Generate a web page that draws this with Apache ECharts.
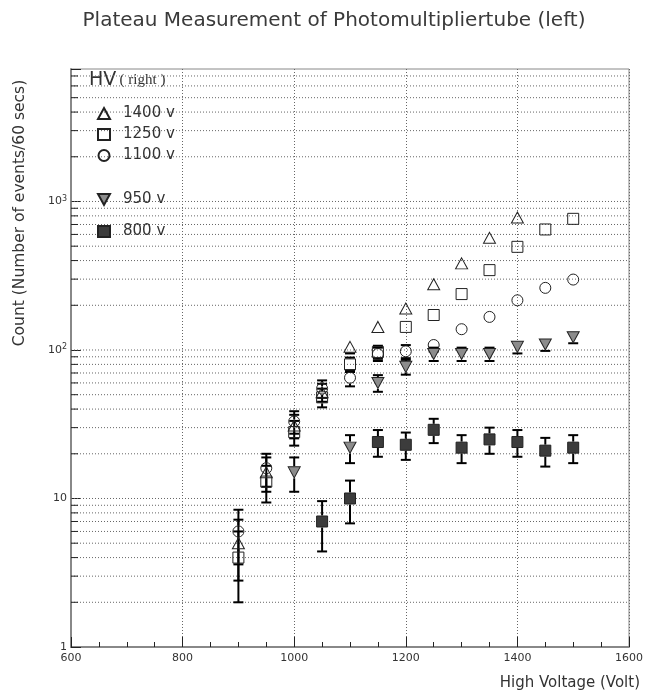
<!DOCTYPE html>
<html>
<head>
<meta charset="utf-8">
<script src="https://cdn.jsdelivr.net/npm/echarts@6/dist/echarts.min.js"></script>
<style>
  html, body { margin: 0; padding: 0; background: #fff; }
  #chart { width: 646px; height: 697px; }
</style>
</head>
<body>
<div id="chart"></div>
<script>
// high voltage settings (x) and counts per 60 s for each HV of the right tube
const hv = [900, 950, 1000, 1050, 1100, 1150, 1200, 1250, 1300, 1350, 1400, 1450, 1500];
const v1400 = [5, 15, 31, 52, 105, 143, 190, 277, 383, 569, 780, null, null];
const e1400 = [2.2, 3.9, 5.6, 7.2, 10.2, 12, 13.8, 16.6, 19.6, 23.9, 27.9, null, null];
const v1250 = [4, 13, 28, 48, 80, 97, 143, 172, 238, 345, 495, 648, 764];
const e1250 = [2, 3.6, 5.3, 6.9, 8.9, 9.8, 12, 13.1, 15.4, 18.6, 22.2, 25.5, 27.6];
const v1100 = [6, 16, 33, 55, 65, 94, 98, 108, 138, 167, 216, 262, 298];
const e1100 = [2.4, 4, 5.7, 7.4, 8.1, 9.7, 9.9, 10.4, 11.7, 12.9, 14.7, 16.2, 17.3];
const v950 = [null, null, 15, null, 22, 60, 77, 94, 94, 94, 105, 109, 122];
const e950 = [null, null, 3.9, null, 4.7, 7.7, 8.8, 9.7, 9.7, 9.7, 10.2, 10.4, 11];
const v800 = [null, null, null, 7, 10, 24, 23, 29, 22, 25, 24, 21, 22];
const e800 = [null, null, null, 2.6, 3.2, 4.9, 4.8, 5.4, 4.7, 5, 4.9, 4.6, 4.7];

// log axis grid values
const yMajor = [10, 100, 1000];
const yMinor = [2, 3, 4, 5, 6, 7, 8, 9, 20, 30, 40, 50, 60, 70, 80, 90,
  200, 300, 400, 500, 600, 700, 800, 900, 2000, 3000, 4000, 5000, 6000, 7000];

const FONT = 'DejaVu Sans';
const INK = '#333';

function pts(vals, errs) {
  const out = [];
  hv.forEach((x, i) => { if (vals[i] != null) out.push([x, vals[i], errs[i]]); });
  return out;
}

function errorBars(params, api) {
  const x = api.value(0), y = api.value(1), e = api.value(2);
  const c = api.coord([x, y]);
  const t = api.coord([x, y + e]);
  const b = api.coord([x, y - e]);
  const g = 6, w = 5;
  const st = { stroke: '#000', lineWidth: 2 };
  const kids = [];
  if (t[1] < c[1] - g) {
    kids.push({ type: 'line', shape: { x1: c[0], y1: t[1], x2: c[0], y2: c[1] - g }, style: st });
    kids.push({ type: 'line', shape: { x1: c[0] - w, y1: t[1], x2: c[0] + w, y2: t[1] }, style: st });
  }
  if (b[1] > c[1] + g) {
    kids.push({ type: 'line', shape: { x1: c[0], y1: c[1] + g, x2: c[0], y2: b[1] }, style: st });
    kids.push({ type: 'line', shape: { x1: c[0] - w, y1: b[1], x2: c[0] + w, y2: b[1] }, style: st });
  }
  return { type: 'group', children: kids };
}

const series = [
  { name: '1400 v', vals: v1400, errs: e1400, symbol: 'triangle', size: [12, 11], fill: 'rgba(0,0,0,0)' },
  { name: '1250 v', vals: v1250, errs: e1250, symbol: 'rect', size: 11, fill: 'rgba(0,0,0,0)' },
  { name: '1100 v', vals: v1100, errs: e1100, symbol: 'circle', size: 11, fill: 'rgba(0,0,0,0)' },
  { name: '950 v', vals: v950, errs: e950, symbol: 'path://M0,0L12,0L6,11Z', size: [12, 11], fill: '#8c8c8c' },
  { name: '800 v', vals: v800, errs: e800, symbol: 'rect', size: 11, fill: '#3c3c3c' }
];

const chart = echarts.init(document.getElementById('chart'));

chart.setOption({
  animation: false,
  backgroundColor: '#fff',
  grid: { left: 71, right: 14, top: 69, bottom: 50, show: true, borderColor: '#888', borderWidth: 1 },
  graphic: [
    { type: 'text', x: 334, y: 21,
      style: { text: 'Plateau Measurement of Photomultipliertube (left)', fontFamily: FONT, fontSize: 20, fill: '#3a3a3a', textAlign: 'center', textVerticalAlign: 'middle' } },
    { type: 'text', x: 640, y: 683,
      style: { text: 'High Voltage (Volt)', fontFamily: FONT, fontSize: 15, fill: INK, textAlign: 'right', textVerticalAlign: 'middle' } },
    { type: 'text', x: 20, y: 213, rotation: Math.PI / 2,
      style: { text: 'Count (Number of events/60 secs)', fontFamily: FONT, fontSize: 15.5, fill: INK, textAlign: 'center', textVerticalAlign: 'middle' } },
    { type: 'text', x: 89, y: 80,
      style: {
        text: '{a|HV} {b|( right )}', textVerticalAlign: 'middle',
        rich: {
          a: { fontFamily: FONT, fontSize: 19, fill: INK },
          b: { fontFamily: 'Liberation Serif', fontSize: 15, fill: INK }
        }
      } }
  ],
  legend: [
    { left: 92, top: 101, orient: 'vertical', itemGap: 6, itemWidth: 12, itemHeight: 11,
      data: ['1400 v', '1250 v', '1100 v'],
      textStyle: { fontFamily: FONT, fontSize: 15, color: INK, padding: [0, 0, 0, 8] } },
    { left: 92, top: 187, orient: 'vertical', itemGap: 17, itemWidth: 12, itemHeight: 11,
      data: ['950 v', '800 v'],
      textStyle: { fontFamily: FONT, fontSize: 15, color: INK, padding: [0, 0, 0, 8] } }
  ],
  xAxis: {
    type: 'value', min: 600, max: 1600, interval: 200,
    axisLine: { lineStyle: { color: '#888', width: 2 } },
    axisTick: { inside: true, length: 10, lineStyle: { color: '#222' } },
    minorTick: { show: true, splitNumber: 4, length: 5, lineStyle: { color: '#222' } },
    axisLabel: { fontFamily: FONT, fontSize: 11, color: INK, margin: 6, formatter: v => String(v) },
    splitLine: { show: true, lineStyle: { color: '#666', type: [1, 2] } }
  },
  yAxis: {
    type: 'log', logBase: 10, min: 1, max: 7800,
    axisLine: { lineStyle: { color: '#888', width: 2 } },
    axisTick: { inside: true, length: 10, lineStyle: { color: '#222' } },
    splitLine: { show: false },
    axisLabel: {
      fontFamily: FONT, fontSize: 11, color: INK, margin: 4,
      formatter: function (v) {
        const p = Math.round(Math.log10(v));
        if (Math.abs(Math.log10(v) - p) > 1e-6) return '';
        if (p === 0) return '1';
        if (p === 1) return '10';
        return '10{s|' + p + '}';
      },
      rich: { s: { fontFamily: FONT, fontSize: 8, color: INK, verticalAlign: 'top', padding: [0, 0, 6, 0] } }
    }
  },
  series: [
    {
      type: 'custom', silent: true, z: 1,
      data: yMinor.map(v => [600, v, 1]).concat(yMajor.map(v => [600, v, 0])),
      renderItem: function (params, api) {
        const a = api.coord([600, api.value(1)]);
        const b = api.coord([1600, api.value(1)]);
        const kids = [{ type: 'line', shape: { x1: a[0], y1: a[1], x2: b[0], y2: b[1] },
          style: { stroke: '#666', lineWidth: 1, lineDash: [1, 2] } }];
        if (api.value(2) === 1) {
          kids.push({ type: 'line', shape: { x1: a[0], y1: a[1], x2: a[0] + 7, y2: a[1] },
            style: { stroke: '#222', lineWidth: 1 } });
        }
        return { type: 'group', children: kids };
      }
    }
  ].concat(series.map(s => ({
    type: 'custom', silent: true, z: 3,
    data: pts(s.vals, s.errs),
    renderItem: errorBars
  }))).concat(series.map(s => ({
    name: s.name, type: 'scatter', z: 5,
    symbol: s.symbol, symbolSize: s.size,
    data: pts(s.vals, s.errs).map(p => [p[0], p[1]]),
    itemStyle: { color: s.fill, borderColor: '#222', borderWidth: 1, opacity: 1 }
  })))
});
</script>
</body>
</html>
